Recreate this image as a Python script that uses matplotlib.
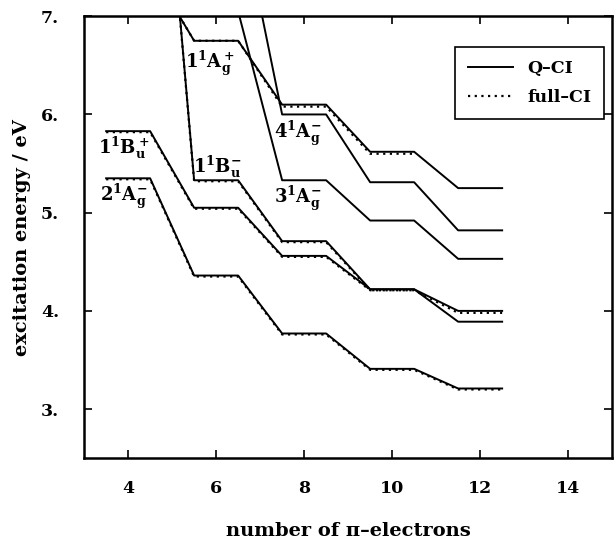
import numpy as np
import matplotlib
matplotlib.use("Agg")
from matplotlib import pyplot as plt

plt.rcParams['font.family'] = ['DejaVu Serif']
plt.rcParams['font.weight'] = 'bold'
plt.rcParams['axes.labelweight'] = 'bold'
plt.rcParams['mathtext.fontset'] = 'dejavuserif'

n_el = [4, 6, 8, 10, 12]  # number of pi-electrons
nan = np.nan

# Q-CI excitation energies (eV); values above 7 run off the top of the plot
q_2Ag = [5.35, 4.36, 3.77, 3.41, 3.21]
q_1Bu_p = [5.83, 5.05, 4.56, 4.22, 3.89]
q_1Bu_m = [10.5, 5.33, 4.71, 4.22, 4.00]
q_1Ag_p = [7.5, 6.75, 6.10, 5.62, 5.25]
q_3Ag = [nan, 7.05, 5.33, 4.92, 4.53]
q_4Ag = [nan, 8.2, 6.00, 5.31, 4.82]

# full-CI excitation energies (eV)
f_2Ag = [5.34, 4.35, 3.76, 3.40, 3.20]
f_1Bu_p = [5.82, 5.04, 4.55, 4.21, nan]
f_1Bu_m = [10.5, 5.32, 4.70, 4.21, 3.98]
f_1Ag_p = [7.5, 6.75, 6.08, 5.60, nan]

labels = [r'$\mathbf{1^1B_u^+}$', r'$\mathbf{2^1A_g^{\mathbf{-}}}$', r'$\mathbf{1^1A_g^+}$',
          r'$\mathbf{1^1B_u^{\mathbf{-}}}$', r'$\mathbf{4^1A_g^{\mathbf{-}}}$', r'$\mathbf{3^1A_g^{\mathbf{-}}}$']
label_x = [3.9, 3.9, 5.85, 6.02, 7.85, 7.85]
label_y = [5.66, 5.17, 6.52, 5.47, 5.81, 5.15]


def levels(vals):
    # each value is a flat level from n-0.5 to n+0.5, joined by sloping lines
    xs = np.repeat(n_el, 2) + np.tile([-0.5, 0.5], len(n_el))
    ys = np.repeat(vals, 2)
    return xs, ys


fig = plt.figure(figsize=(6.14, 5.41), dpi=100)
ax = fig.add_axes([0.137, 0.153, 0.860, 0.817])

for i, q in enumerate([q_2Ag, q_1Bu_p, q_1Bu_m, q_1Ag_p, q_3Ag, q_4Ag]):
    xs, ys = levels(q)
    ax.plot(xs, ys, color='black', lw=1.4, label='Q–CI' if i == 0 else None)
for i, f in enumerate([f_2Ag, f_1Bu_p, f_1Bu_m, f_1Ag_p]):
    xs, ys = levels(f)
    ax.plot(xs, ys, color='black', lw=1.6, ls=(0, (1, 2)), label='full–CI' if i == 0 else None)

for t, lx, ly in zip(labels, label_x, label_y):
    ax.text(lx, ly, t, fontsize=13, ha='center', va='center')

ax.set_xlim(3, 15)
ax.set_ylim(2.5, 7)
ax.set_xticks([4, 6, 8, 10, 12, 14])
ax.set_yticks([3, 4, 5, 6, 7])
ax.set_yticklabels(['3.', '4.', '5.', '6.', '7.'])
ax.tick_params(direction='in', top=True, right=True, length=6, width=1.2, labelsize=12.5)
ax.tick_params(axis='x', pad=16)
ax.tick_params(axis='y', pad=18)
for s in ax.spines.values():
    s.set_linewidth(1.8)

ax.set_xlabel('number of π–electrons', fontsize=14, labelpad=18)
ax.set_ylabel('excitation energy / eV', fontsize=14, labelpad=7)

leg = ax.legend(loc='upper right', bbox_to_anchor=(0.985, 0.93), borderaxespad=0, fontsize=12.5,
                fancybox=False, edgecolor='black', framealpha=1, handlelength=2.6, borderpad=0.75,
                labelspacing=0.7)
leg.get_frame().set_linewidth(1.2)

fig.savefig('out.png', dpi=100)
